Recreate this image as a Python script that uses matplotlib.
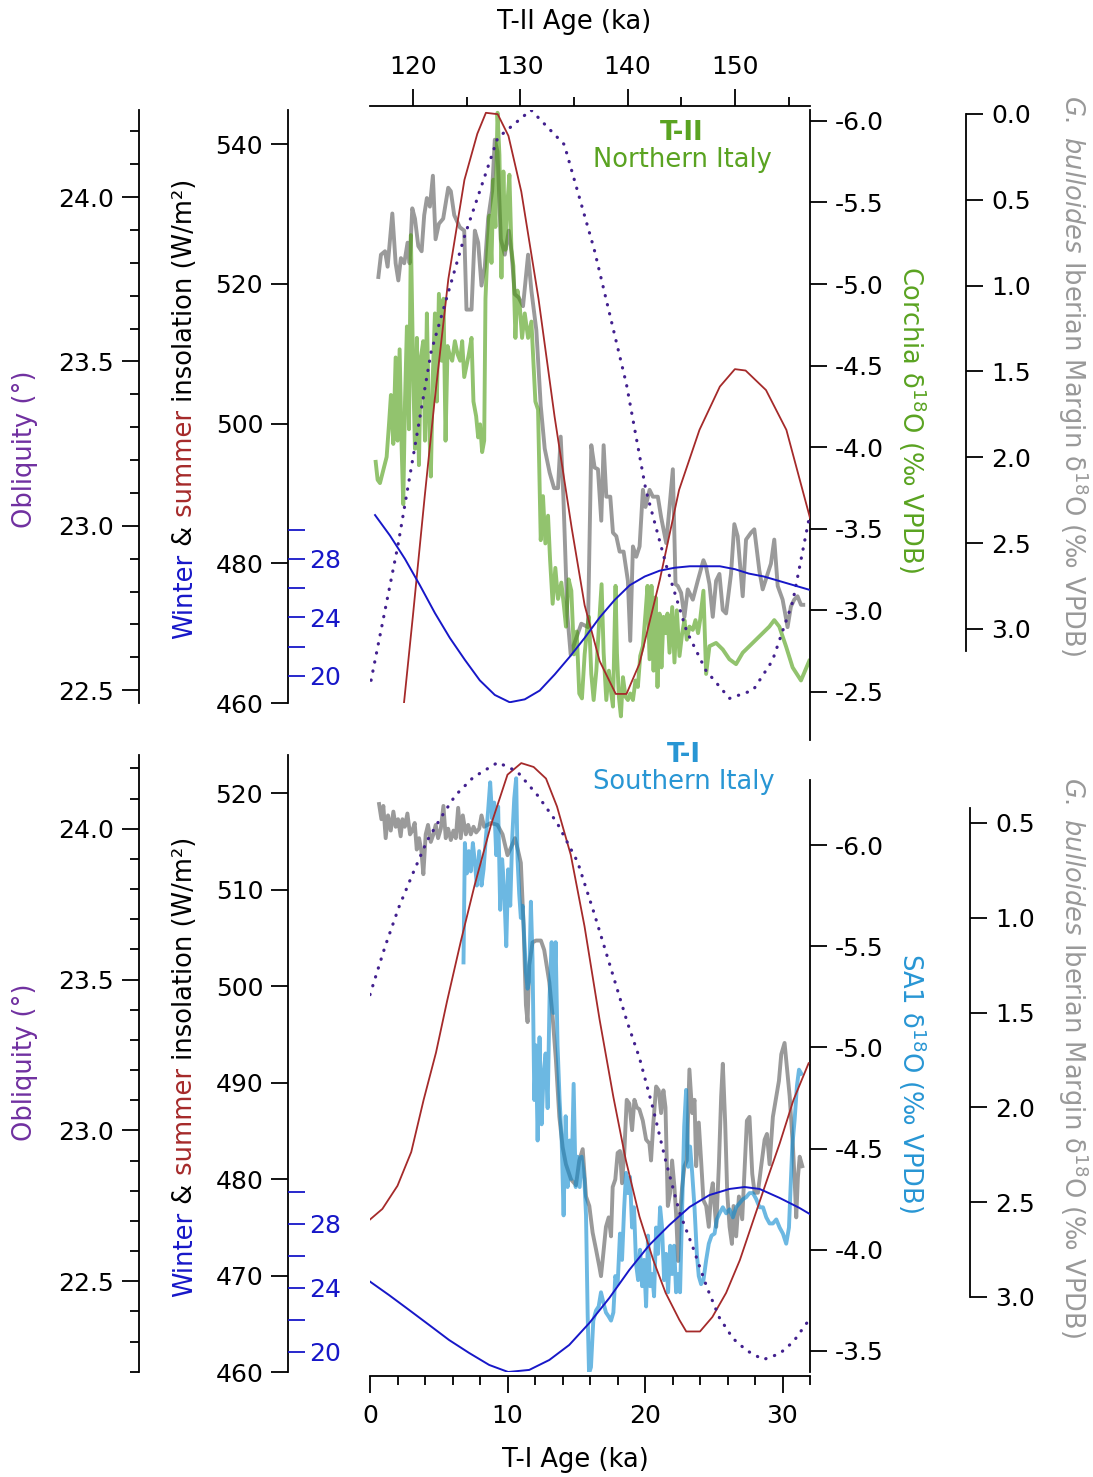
import numpy as np
import matplotlib.pyplot as plt
from matplotlib.ticker import MultipleLocator, FixedLocator, FormatStrFormatter

# ---------------- T-II (top panel) ----------------
t2_summer_age = [119.0, 120.0, 121.1, 122.0, 123.3, 124.8, 126.0, 126.8, 127.9, 128.9, 130.1, 131.7,
                 133.2, 134.8, 136.0, 137.4, 138.9, 139.9, 141.1, 143.0, 144.8, 146.7, 148.6, 150.0,
                 151.0, 152.9, 154.8, 157.0]
t2_summer = [457.5, 472.5, 489.6, 503.0, 520.7, 534.9, 541.5, 544.5, 544.3, 541.2, 533.2, 517.9,
             501.0, 485.0, 474.0, 466.0, 461.3, 461.3, 465.6, 477.6, 490.5, 499.1, 505.3, 507.8,
             507.6, 504.8, 499.1, 486.5]

t2_winter_age = [116.47, 117.86, 119.26, 120.65, 122.05, 123.44, 124.84, 126.23, 127.63, 129.02,
                 130.42, 131.81, 133.21, 134.60, 136.0, 137.4, 138.8, 140.2, 141.6, 143.0,
                 144.4, 145.8, 147.2, 148.6, 150.0, 151.3, 152.7, 154.1, 155.5, 156.9]
t2_winter = [31.0, 29.6, 28.0, 26.2, 24.3, 22.6, 21.1, 19.7, 18.7, 18.2,
             18.4, 19.0, 20.1, 21.3, 22.6, 24.0, 25.2, 26.2, 26.8, 27.2,
             27.4, 27.5, 27.5, 27.5, 27.3, 27.0, 26.8, 26.5, 26.2, 25.9]

t2_obl_age = [116.1, 118.6, 121.7, 124.8, 127.9, 131.0, 134.1, 136.9, 139.9, 141.7, 143.6, 145.5,
              147.3, 149.5, 151.7, 153.5, 155.4, 156.9]
t2_obl = [22.53, 22.94, 23.53, 23.88, 24.18, 24.265, 24.16, 23.84, 23.43, 23.11, 22.88, 22.68,
          22.56, 22.475, 22.50, 22.59, 22.77, 23.02]

t2_bull_age = [116.78, 117.02, 117.40, 117.64, 118.08, 118.39, 118.64, 118.88, 119.19, 119.50,
               119.69, 119.94, 120.19, 120.50, 120.81, 121.05, 121.30, 121.58, 121.86, 122.11,
               122.42, 122.82, 123.29, 123.53, 123.85, 124.37, 124.78, 124.99, 125.46, 125.77,
               126.08, 126.39, 126.70, 127.01, 127.38, 127.63, 127.88, 128.19, 128.56, 128.93,
               129.18, 129.49, 129.86, 130.26, 130.73, 131.04, 131.50, 131.91, 132.28, 132.74,
               133.15, 133.52, 133.77, 134.02, 134.39, 134.70, 135.07, 135.69, 136.31,
               136.62, 136.93, 137.24, 137.55, 137.77, 138.02, 138.39, 138.64, 138.95, 139.26,
               139.63, 140.03, 140.25, 140.50, 140.81, 141.12, 141.43, 141.67, 142.05, 142.36,
               142.82, 143.13, 143.60, 143.91, 144.22, 144.47, 144.68, 144.99, 145.30, 145.61,
               146.08, 146.54, 147.07, 147.32, 147.63, 147.94, 148.25, 148.56, 148.87, 149.18,
               149.64, 149.95, 150.26, 150.73, 151.04, 151.50, 151.81, 152.28, 152.59, 153.05,
               153.36, 153.67, 153.99, 154.45, 154.91, 155.22, 155.53, 155.84, 156.16, 156.37]
t2_bull = [0.95, 0.82, 0.80, 0.89, 0.58, 0.87, 0.97, 0.84, 0.87, 0.75,
           0.87, 0.55, 0.61, 0.77, 0.80, 0.59, 0.49, 0.54, 0.36, 0.73,
           0.64, 0.61, 0.43, 0.45, 0.59, 0.66, 0.68, 1.14, 1.14, 0.68,
           0.75, 1.00, 0.89, 0.61, 0.45, 0.15, 0.22, 0.73, 0.82, 0.68,
           0.80, 1.05, 1.07, 1.12, 0.82, 1.03, 1.26, 1.70, 1.95, 2.09,
           2.18, 2.18, 1.88, 2.23, 2.92, 3.15, 3.08, 2.97, 2.99,
           1.93, 2.06, 2.07, 2.37, 1.93, 2.23, 2.23, 2.44, 2.46, 2.55,
           2.55, 2.72, 3.07, 2.52, 2.58, 2.52, 2.19, 2.29, 2.19, 2.23,
           2.23, 2.35, 2.50, 2.29, 2.07, 2.74, 2.75, 2.79, 2.93, 2.77,
           2.83, 2.72, 2.60, 2.64, 2.74, 2.93, 2.72, 2.68, 2.89, 2.91,
           2.68, 2.39, 2.46, 2.81, 2.48, 2.44, 2.42, 2.66, 2.77, 2.68,
           2.62, 2.48, 2.75, 2.83, 2.99, 2.87, 2.83, 2.81, 2.86, 2.86]

corchia_age = [116.53, 116.71, 116.93, 117.24, 117.55, 117.77, 117.95, 118.17, 118.39, 118.57,
               118.76, 118.95, 119.10, 119.26, 119.44, 119.63, 119.81, 120.03, 120.19, 120.37,
               120.56, 120.74, 120.96, 121.12, 121.30, 121.49, 121.67, 121.86, 122.05, 122.23,
               122.42, 122.67, 122.85, 123.04, 123.23, 123.41, 123.66, 123.91, 124.16, 124.40,
               124.59, 124.78, 124.99, 125.21, 125.46, 125.64, 125.89, 126.08, 126.26, 126.45,
               126.64, 126.76, 126.95, 127.13, 127.32, 127.50, 127.69, 127.88, 128.06, 128.25,
               128.43, 128.62, 128.81, 128.99, 129.18, 129.36, 129.55, 129.74, 129.95, 130.17,
               130.42, 130.73, 131.04, 131.41, 131.66, 131.91, 132.12, 132.34, 132.59, 132.78,
               133.02, 133.27, 133.52, 133.83, 134.08, 134.26, 134.51, 134.76, 135.01, 135.26,
               135.50, 135.75, 136.00, 136.25,
               136.40, 136.62, 136.84, 137.09, 137.33, 137.58, 137.77, 138.02, 138.26, 138.48,
               138.64, 138.88, 139.01, 139.19, 139.38, 139.57, 139.81, 140.03, 140.25, 140.50,
               140.74, 140.96, 141.18, 141.43, 141.67, 141.86, 142.05, 142.23, 142.42, 142.61,
               142.79, 142.98, 143.16, 143.35, 143.54, 143.72, 143.91, 144.16, 144.37, 144.59,
               144.84, 145.09, 145.30, 145.52, 145.77, 146.08, 146.33, 146.57, 146.76, 147.07,
               147.32, 147.63, 148.25, 148.87, 149.49, 150.11, 150.73, 151.35, 151.97, 152.59,
               153.21, 153.67, 154.14, 154.76, 155.38, 156.16, 156.93]
corchia_d18o = [-3.91, -3.80, -3.78, -3.86, -3.94, -4.14, -4.32, -4.02, -4.55, -4.04,
                -4.60, -3.99, -3.65, -4.28, -4.74, -4.11, -5.30, -4.43, -3.99, -4.67,
                -3.89, -4.55, -4.65, -4.04, -4.82, -4.19, -3.82, -4.45, -4.82, -4.28,
                -4.94, -4.53, -4.91, -4.04, -4.62, -4.57, -4.53, -4.65, -4.57, -4.53,
                -4.65, -4.43, -4.50, -4.57, -4.67, -4.28, -4.19, -4.06, -4.14, -3.97,
                -4.04, -4.91, -5.21, -5.42, -5.13, -5.64, -5.35, -6.05, -5.79, -5.04,
                -5.69, -5.21, -5.50, -5.67, -5.21, -5.11, -4.67, -4.96, -4.87, -4.67,
                -4.82, -4.67, -4.77, -4.28, -4.23, -3.43, -3.70, -3.41, -3.58, -3.31,
                -3.04, -3.26, -3.07, -3.17, -3.02, -2.90, -3.19, -3.12, -2.73, -2.87,
                -2.49, -2.46, -2.73, -2.90,
                -2.96, -2.61, -2.45, -2.63, -2.90, -3.16, -2.74, -2.45, -2.63, -2.49,
                -2.41, -3.15, -2.74, -2.47, -2.35, -2.59, -2.47, -2.45, -2.49, -2.45,
                -2.57, -2.53, -2.72, -2.78, -2.98, -3.15, -2.70, -3.15, -2.63, -3.08,
                -2.53, -2.98, -2.65, -2.96, -2.86, -2.98, -2.74, -3.02, -2.68, -3.00,
                -2.72, -2.86, -2.94, -2.82, -2.90, -2.88, -2.94, -2.86, -2.94, -3.12,
                -2.61, -2.78, -2.80, -2.76, -2.70, -2.67, -2.74, -2.78, -2.82, -2.86,
                -2.90, -2.94, -2.90, -2.78, -2.65, -2.57, -2.69]

# ---------------- T-I (bottom panel) ----------------
t1_summer_age = [0, 0.9, 2.0, 3.0, 3.9, 4.8, 5.6, 6.6, 7.6, 8.8, 10.0, 11.0, 11.9, 12.8, 13.6,
                 14.6, 15.6, 16.7, 17.7, 18.6, 19.6, 20.6, 21.5, 22.5, 23.0, 24.0, 24.9, 25.9,
                 26.9, 27.8, 28.8, 29.8, 30.8, 31.9]
t1_summer = [475.8, 476.9, 479.3, 482.8, 488.2, 493.1, 498.4, 504.6, 510.4, 516.7, 521.9, 523.1,
             522.7, 521.5, 518.6, 513.6, 506.2, 496.5, 488.5, 482.0, 476.1, 471.6, 468.2, 465.4,
             464.2, 464.2, 465.7, 468.2, 471.6, 475.4, 479.6, 483.7, 488.2, 492.0]

t1_winter_age = [0, 1.38, 2.84, 4.30, 5.75, 7.21, 8.67, 10.05, 11.58, 13.04, 14.49, 15.95, 17.41,
                 18.86, 20.32, 21.78, 23.24, 24.69, 26.15, 27.24, 28.33, 29.79, 31.24, 31.97]
t1_winter = [24.4, 23.56, 22.63, 21.69, 20.75, 19.94, 19.19, 18.75, 18.88, 19.5, 20.44, 21.81,
             23.38, 25.13, 26.69, 27.94, 29.06, 29.81, 30.19, 30.31, 30.19, 29.63, 29.0, 28.63]

t1_obl_age = [0, 1.1, 2.1, 3.1, 4.15, 5.2, 6.2, 7.5, 9.3, 10.7, 12.2, 13.6, 15.1, 16.3, 18.7,
              19.6, 20.6, 21.5, 22.5, 23.5, 24.5, 25.4, 26.4, 27.4, 28.6, 29.8, 30.8, 31.9]
t1_obl = [23.45, 23.61, 23.74, 23.85, 23.96, 24.04, 24.11, 24.17, 24.22, 24.19, 24.11, 24.02,
          23.89, 23.72, 23.36, 23.24, 23.07, 22.90, 22.73, 22.61, 22.48, 22.38, 22.31, 22.27,
          22.24, 22.26, 22.30, 22.37]

t1_bull_age = [0.66, 0.83, 0.97, 1.14, 1.31, 1.51, 1.70, 1.87, 2.04, 2.23, 2.36, 2.53, 2.72, 2.91,
               3.08, 3.25, 3.40, 3.57, 3.74, 3.88, 4.05, 4.22, 4.42, 4.61, 4.78, 4.95, 5.15, 5.34,
               5.51, 5.68, 5.88, 6.07, 6.24, 6.41, 6.60, 6.75, 6.97, 7.14, 7.33, 7.53, 7.72, 7.94,
               8.11, 8.30, 8.79, 9.27, 9.64, 10.00, 10.25, 10.54, 10.78, 10.97, 11.17, 11.34,
               11.46, 11.58, 11.82, 12.07, 12.43, 12.67, 13.04, 13.28, 13.52, 13.77, 14.01, 14.25,
               14.62, 14.98, 15.22, 15.47, 15.71,
               15.95, 16.19, 16.44, 16.68, 16.80, 16.97, 17.16, 17.36, 17.53, 17.65, 17.84, 18.01,
               18.18, 18.33, 18.50, 18.67, 18.86, 19.06, 19.23, 19.40, 19.59, 19.84, 20.08, 20.32,
               20.44, 20.61, 20.81, 21.00, 21.17, 21.34, 21.49, 21.66, 21.83, 21.97, 22.14, 22.26,
               22.41, 22.55, 22.70, 22.87, 23.04, 23.23, 23.43, 23.60, 23.72, 23.91, 24.08, 24.25,
               24.45, 24.64, 24.81, 24.93, 25.18, 25.37, 25.54, 25.66, 25.83, 25.98, 26.15, 26.32,
               26.44, 26.63, 26.83, 27.07, 27.24, 27.41, 27.60, 27.80, 27.97, 28.21, 28.45, 28.70,
               28.87, 29.06, 29.30, 29.55, 29.74, 29.91, 30.15, 30.32, 30.52, 30.76, 30.88, 31.00,
               31.12, 31.25, 31.44]
t1_bull = [0.40, 0.48, 0.41, 0.58, 0.46, 0.54, 0.44, 0.52, 0.48, 0.57, 0.48, 0.52, 0.45, 0.56,
           0.54, 0.50, 0.64, 0.58, 0.65, 0.77, 0.56, 0.51, 0.60, 0.56, 0.51, 0.58, 0.53, 0.41,
           0.58, 0.53, 0.59, 0.54, 0.58, 0.42, 0.58, 0.46, 0.56, 0.51, 0.56, 0.52, 0.55, 0.53,
           0.46, 0.52, 0.50, 0.51, 0.56, 0.67, 0.63, 0.58, 0.65, 0.71, 1.04, 1.46,
           1.55, 1.25, 1.13, 1.12, 1.12, 1.17, 1.34, 1.52, 1.75, 2.05, 2.21, 2.30,
           2.38, 2.41, 2.28, 2.22, 2.47,
           2.52, 2.66, 2.75, 2.84, 2.89, 2.77, 2.63, 2.58, 2.68, 2.42, 2.38, 2.24,
           2.23, 2.40, 2.23, 1.96, 1.98, 2.12, 1.96, 2.00, 2.01, 2.07, 2.17, 2.19,
           2.28, 2.08, 1.89, 1.91, 2.03, 1.91, 2.00, 2.52, 2.45, 2.28, 2.42, 2.56,
           2.81, 2.56, 2.42, 2.31, 2.28, 1.80, 2.03, 1.96, 2.31, 2.08, 2.28, 2.49,
           2.52, 2.63, 2.45, 2.40, 2.63, 2.31, 1.94, 1.77, 2.08, 2.45, 2.63, 2.72,
           2.52, 2.68, 2.47, 2.59, 2.33, 2.07, 2.05, 2.35, 2.45, 2.45, 2.31, 2.17,
           2.14, 2.30, 2.05, 1.94, 1.86, 1.72, 1.66, 1.79, 1.94, 2.21, 2.38, 2.58,
           2.37, 2.26, 2.31]

sa1_age = [6.80, 6.90, 7.04, 7.19, 7.33, 7.48, 7.62, 7.77, 7.94, 8.11, 8.26, 8.42, 8.59, 8.74,
           8.89, 9.03, 9.18, 9.32, 9.47, 9.61, 9.76, 9.91, 10.05, 10.20, 10.34, 10.49, 10.63,
           10.73, 10.85, 10.97, 11.10, 11.22, 11.34, 11.46, 11.58, 11.70, 11.82, 11.95, 12.07,
           12.19, 12.33, 12.48, 12.62, 12.77, 12.92, 13.06, 13.21, 13.35, 13.50, 13.64, 13.79,
           13.94, 14.08, 14.23, 14.37, 14.52, 14.66, 14.81, 14.96, 15.10, 15.25, 15.39, 15.59,
           15.71, 15.83, 15.93,
           16.07, 16.24, 16.44, 16.63, 16.80, 16.97, 17.16, 17.36, 17.53, 17.70, 17.84, 18.01,
           18.18, 18.33, 18.48, 18.62, 18.77, 18.91, 19.06, 19.20, 19.35, 19.50, 19.64, 19.79,
           19.93, 20.08, 20.22, 20.37, 20.52, 20.66, 20.81, 20.95, 21.10, 21.24, 21.39, 21.53,
           21.68, 21.83, 21.97, 22.12, 22.26, 22.41, 22.55, 22.70, 22.85, 22.99, 23.14, 23.28,
           23.43, 23.60, 23.77, 23.91, 24.08, 24.25, 24.45, 24.64, 24.84, 25.06, 25.22, 25.42,
           25.66, 25.90, 26.15, 26.39, 26.63, 26.88, 27.12, 27.36, 27.60, 27.85, 28.09, 28.33,
           28.58, 28.82, 29.06, 29.30, 29.55, 29.79, 30.03, 30.27, 30.47, 30.57, 30.71, 30.88,
           31.05, 31.20, 31.37]
sa1_d18o = [-5.42, -6.01, -5.86, -5.97, -5.87, -6.01, -5.92, -5.80, -5.97, -5.80, -5.88, -6.03,
            -6.17, -6.31, -6.13, -6.21, -5.95, -6.19, -5.68, -5.93, -5.78, -5.50, -5.88, -5.70,
            -6.03, -6.23, -6.33, -5.93, -5.76, -5.64, -5.70, -5.54, -5.37, -5.29, -5.33, -5.72,
            -5.44, -4.74, -5.01, -4.54, -5.05, -4.62, -4.86, -4.97, -4.70, -5.25, -5.52, -5.17,
            -5.52, -5.01, -4.74, -4.54, -4.17, -4.66, -4.31, -4.54, -4.35, -4.82, -4.31, -4.46,
            -4.31, -4.46, -4.35, -4.17, -3.68, -3.39,
            -3.42, -3.65, -3.70, -3.72, -3.79, -3.74, -3.69, -3.67, -3.65, -3.69, -3.87, -3.83,
            -4.08, -3.95, -4.20, -4.38, -4.28, -4.36, -4.11, -4.21, -3.93, -3.85, -4.00, -3.82,
            -3.95, -3.72, -4.07, -3.82, -3.88, -3.77, -4.11, -3.98, -4.21, -4.11, -3.85, -3.98,
            -3.79, -4.02, -3.88, -4.02, -3.79, -3.88, -3.79, -4.21, -4.61, -4.79, -4.41, -4.51,
            -4.38, -4.21, -3.98, -3.87, -3.83, -3.85, -3.95, -4.03, -4.07, -4.08, -4.15, -4.18,
            -4.21, -4.18, -4.20, -4.16, -4.21, -4.23, -4.25, -4.26, -4.28, -4.28, -4.25, -4.21,
            -4.21, -4.16, -4.13, -4.13, -4.15, -4.11, -4.08, -4.03, -4.11, -4.28, -4.51, -4.64,
            -4.81, -4.89, -4.87]

# ---------------- styling ----------------
W, H = 1093, 1477
plt.rcParams['font.family'] = ['DejaVu Sans']
plt.rcParams['font.size'] = 18.5
plt.rcParams['xtick.labelsize'] = 18
plt.rcParams['ytick.labelsize'] = 18
plt.rcParams['axes.unicode_minus'] = False

c_summer = '#a52a2a'
c_winter = '#1717c8'
c_obl_line = '#42208e'
c_obl_text = '#7030a0'
c_gray = '#575757'
c_green = '#499b0d'
c_green_txt = '#5aa321'
c_blue = '#0a89cf'
c_blue_txt = '#2896d4'
c_label_gray = '#999999'

SW = 1.3
MAJ, MIN = 12, 6.5


def box(x0, y0, x1, y1):
    return [x0 / W, 1 - y1 / H, (x1 - x0) / W, (y1 - y0) / H]


def keep_spines(a, sides):
    for s in ['left', 'right', 'top', 'bottom']:
        a.spines[s].set_visible(s in sides)
        a.spines[s].set_linewidth(SW)
    a.patch.set_visible(False)


def stacked_vertical(x, yc, parts):
    # multi-coloured label rotated 90 deg, centred on (x, yc) in image pixels
    r = fig.canvas.get_renderer()
    texts = []
    for s, c in parts:
        t = fig.text(0, 0, s, color=c, rotation=90, ha='center', va='bottom')
        texts.append(t)
    hs = [t.get_window_extent(r).height for t in texts]
    y = (H - yc) - sum(hs) / 2
    for t, h in zip(texts, hs):
        t.set_position((x / W, y / H))
        y += h


fig = plt.figure(figsize=(W / 100, H / 100), dpi=100)
fig.patch.set_facecolor('white')


def build_panel(top, bottom, corchia_bottom, xlim, insol_lim, obl_lim, win_lim, bull_lim,
                bull_pos, bull_bounds, iso_lim, iso_bounds, top_axis):
    ax = fig.add_axes(box(370, top, 810, bottom))
    ax.set_zorder(3)
    keep_spines(ax, ['left', 'top' if top_axis else 'bottom'])
    ax.spines['left'].set_position(('axes', -0.186))
    ax.set_xlim(*xlim)
    ax.set_ylim(*insol_lim)
    if top_axis:
        ax.spines['top'].set_position(('outward', 3))
        ax.xaxis.tick_top()
        ax.xaxis.set_major_locator(MultipleLocator(10))
        ax.xaxis.set_minor_locator(MultipleLocator(5))
        ax.tick_params(axis='x', which='major', pad=7)
        ax.yaxis.set_major_locator(MultipleLocator(20))
    else:
        ax.spines['bottom'].set_position(('outward', 3))
        ax.xaxis.tick_bottom()
        ax.xaxis.set_major_locator(MultipleLocator(10))
        ax.xaxis.set_minor_locator(MultipleLocator(2))
        ax.tick_params(axis='x', which='major', pad=8)
        ax.yaxis.set_major_locator(MultipleLocator(10))
    ax.tick_params(axis='both', which='major', length=MAJ, width=SW, direction='out')
    ax.tick_params(axis='x', which='minor', length=MIN, width=SW, direction='out')
    ax.tick_params(axis='y', which='major', pad=6)
    ax.yaxis.tick_left()

    # obliquity
    ao = ax.twinx()
    ao.set_zorder(4)
    keep_spines(ao, ['left'])
    ao.spines['left'].set_position(('axes', -0.525))
    ao.yaxis.tick_left()
    ao.set_ylim(*obl_lim)
    ao.yaxis.set_major_locator(FixedLocator([22.5, 23.0, 23.5, 24.0]))
    ao.yaxis.set_minor_locator(MultipleLocator(0.1))
    ao.yaxis.set_major_formatter(FormatStrFormatter('%.1f'))
    ao.tick_params(which='major', length=MAJ, width=SW, pad=6)
    ao.tick_params(which='minor', length=MIN, width=SW)

    # winter insolation
    aw = ax.twinx()
    aw.set_zorder(4)
    keep_spines(aw, [])
    aw.spines['right'].set_position(('axes', -0.186))
    aw.yaxis.tick_right()
    aw.set_ylim(*win_lim)
    aw.yaxis.set_major_locator(FixedLocator([20, 24, 28]))
    aw.yaxis.set_minor_locator(FixedLocator([22, 26, 30]))
    aw.tick_params(which='both', length=MAJ, width=SW, color=c_winter, labelcolor=c_winter,
                   direction='out', pad=3)

    # G. bulloides
    ab = ax.twinx()
    ab.set_zorder(1)
    keep_spines(ab, ['right'])
    ab.spines['right'].set_position(('axes', bull_pos))
    ab.set_ylim(*bull_lim)
    ab.spines['right'].set_bounds(*bull_bounds)
    ab.yaxis.set_major_locator(MultipleLocator(0.5))
    ab.yaxis.set_major_formatter(FormatStrFormatter('%.1f'))
    ab.tick_params(length=MAJ, width=SW, pad=6)

    # speleothem
    ac = fig.add_axes(box(370, top, 810, corchia_bottom))
    ac.set_zorder(2)
    keep_spines(ac, ['right'])
    ac.set_xlim(*xlim)
    ac.set_xticks([])
    ac.set_ylim(*iso_lim)
    ac.spines['right'].set_bounds(*iso_bounds)
    ac.yaxis.tick_right()
    ac.yaxis.set_major_locator(MultipleLocator(0.5))
    ac.yaxis.set_major_formatter(FormatStrFormatter('%.1f'))
    ac.tick_params(length=MAJ, width=SW, pad=6)
    return ax, ao, aw, ab, ac


# ---- top panel (T-II) ----
ax1, ao1, aw1, ab1, ac1 = build_panel(
    110, 703, 740, (116, 157), (460, 544.9), (22.461, 24.265), (18.15, 58.7),
    (3.432, -0.023), 1.355, (0.0, 3.13), (-2.205, -6.067), (-2.205, -6.067), True)

ax1.plot(t2_summer_age, t2_summer, color=c_summer, lw=1.3, zorder=3)
ao1.plot(t2_obl_age, t2_obl, color=c_obl_line, lw=2.3, linestyle=(0, (0.1, 2.8)),
         dash_capstyle='round')
aw1.plot(t2_winter_age, t2_winter, color=c_winter, lw=1.4)
ab1.plot(t2_bull_age, t2_bull, color=c_gray, lw=2.8, alpha=0.6)
ac1.plot(corchia_age, corchia_d18o, color=c_green, lw=2.8, alpha=0.6)

# ---- bottom panel (T-I) ----
ax2, ao2, aw2, ab2, ac2 = build_panel(
    755, 1372, 1372, (0, 32), (460, 523.94), (22.199, 24.2445), (18.75, 57.31),
    (3.3956, 0.1414), 1.364, (0.42, 3.0), (-3.396, -6.445), (-3.396, -6.321), False)

ax2.plot(t1_summer_age, t1_summer, color=c_summer, lw=1.3)
ao2.plot(t1_obl_age, t1_obl, color=c_obl_line, lw=2.3, linestyle=(0, (0.1, 2.8)),
         dash_capstyle='round')
aw2.plot(t1_winter_age, t1_winter, color=c_winter, lw=1.4)
ab2.plot(t1_bull_age, t1_bull, color=c_gray, lw=2.8, alpha=0.6)
ac2.plot(sa1_age, sa1_d18o, color=c_blue, lw=2.8, alpha=0.6)

# ---- labels ----
fig.text(574 / W, 1 - 22 / H, 'T-II Age (ka)', ha='center', va='center')
fig.text(575 / W, 1 - 1460 / H, 'T-I Age (ka)', ha='center', va='center')

fig.text(682 / W, 1 - 133 / H, 'T-II', ha='center', va='center', color=c_green_txt,
         fontweight='bold')
fig.text(682 / W, 1 - 160 / H, 'Northern Italy', ha='center', va='center', color=c_green_txt)
fig.text(684 / W, 1 - 755 / H, 'T-I', ha='center', va='center', color=c_blue_txt,
         fontweight='bold')
fig.text(684 / W, 1 - 782 / H, 'Southern Italy', ha='center', va='center', color=c_blue_txt)

fig.text(912 / W, 1 - 420 / H, r'Corchia δ$^{18}$O (‰ VPDB)', rotation=270,
         ha='center', va='center', color=c_green_txt)
fig.text(912 / W, 1 - 1083 / H, r'SA1 δ$^{18}$O (‰ VPDB)', rotation=270,
         ha='center', va='center', color=c_blue_txt)

bull_label = r'$\it{G.\ bulloides}$ Iberian Margin δ$^{18}$O (‰ VPDB)'
fig.text(1073 / W, 1 - 375 / H, bull_label, rotation=270, ha='center', va='center',
         color=c_label_gray)
fig.text(1073 / W, 1 - 1057 / H, bull_label, rotation=270, ha='center', va='center',
         color=c_label_gray)

fig.text(25 / W, 1 - 449 / H, 'Obliquity (°)', rotation=90, ha='center', va='center',
         color=c_obl_text)
fig.text(25 / W, 1 - 1062 / H, 'Obliquity (°)', rotation=90, ha='center', va='center',
         color=c_obl_text)

ins_parts = [('Winter', c_winter), (' &', 'black'), (' summer', c_summer),
             (' insolation (W/m²)', 'black')]
stacked_vertical(185, 409, ins_parts)
stacked_vertical(185, 1067, ins_parts)

fig.savefig('out.png', dpi=100)
